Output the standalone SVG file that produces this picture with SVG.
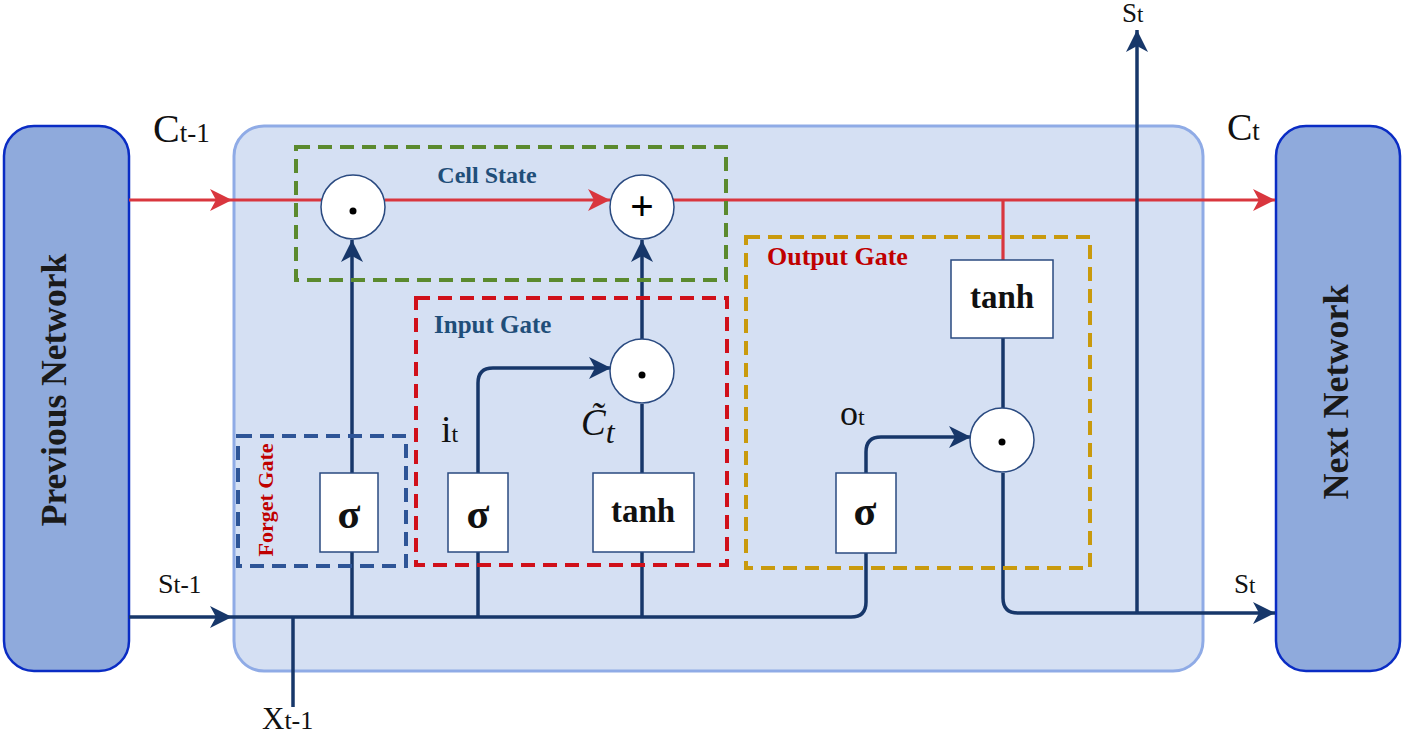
<svg xmlns="http://www.w3.org/2000/svg" width="1405" height="735" viewBox="0 0 1405 735">
<style>
.net{fill:#8faadc;stroke:#0a2cc4;stroke-width:2.5}
.cell{fill:#d5e0f3;stroke:#8fabe6;stroke-width:3}
.nv{fill:none;stroke:#17376a;stroke-width:3.5}
.rd{fill:none;stroke:#d9363e;stroke-width:3.2}
.dash{fill:none;stroke-width:4;stroke-dasharray:14 8}
.op{fill:#fff;stroke:#2a4a80;stroke-width:1.5}
.fn{fill:#fff;stroke:#2a4a80;stroke-width:1.5}
.b{font-family:"Liberation Serif","Times New Roman",serif;font-weight:bold}
.r{font-family:"Liberation Serif","Times New Roman",serif;fill:#111}
</style>
<defs>
<marker id="an" markerUnits="userSpaceOnUse" markerWidth="24" markerHeight="24" refX="22" refY="11" orient="auto">
<path d="M0,0 L22,11 L0,22 L6,11 z" fill="#17376a"/>
</marker>
<marker id="ar" markerUnits="userSpaceOnUse" markerWidth="24" markerHeight="24" refX="22" refY="11" orient="auto">
<path d="M0,0 L22,11 L0,22 L6,11 z" fill="#d9363e"/>
</marker>
</defs>
<rect width="1405" height="735" fill="#fff"/>
<g id="previous-network">
<rect class="net" x="4" y="126" width="125" height="545" rx="30"/>
<text class="b" font-size="35.5" fill="#1a1a1a" text-anchor="middle" transform="translate(66,390) rotate(-90)">Previous Network</text>
</g>
<g id="next-network">
<rect class="net" x="1276" y="126" width="124" height="545" rx="30"/>
<text class="b" font-size="36" fill="#1a1a1a" text-anchor="middle" transform="translate(1348,392) rotate(-90)">Next Network</text>
</g>
<g id="lstm-cell">
<rect class="cell" x="234" y="126" width="969" height="545" rx="30"/>
</g>
<g id="connectors">
<path class="rd" d="M129,200 H232" marker-end="url(#ar)"/>
<path class="rd" d="M232,200 H322"/>
<path class="rd" d="M385,200 H610" marker-end="url(#ar)"/>
<path class="rd" d="M673,200 H1275" marker-end="url(#ar)"/>
<path class="rd" d="M1003,200 V260"/>
<path class="nv" d="M129,617 H232" marker-end="url(#an)"/>
<path class="nv" d="M232,617 H851 Q866,617 866,602 V553"/>
<path class="nv" d="M293,617 V707"/>
<path class="nv" d="M352,617 V552"/>
<path class="nv" d="M478,617 V552"/>
<path class="nv" d="M642,617 V552"/>
<path class="nv" d="M352,473 V240" marker-end="url(#an)"/>
<path class="nv" d="M478,473 V383 Q478,368 493,368 H611" marker-end="url(#an)"/>
<path class="nv" d="M642,473 V404"/>
<path class="nv" d="M642,339 V240" marker-end="url(#an)"/>
<path class="nv" d="M866,473 V452 Q866,437 881,437 H971" marker-end="url(#an)"/>
<path class="nv" d="M1003,338 V408"/>
<path class="nv" d="M1003,473 V598 Q1003,613 1018,613 H1275" marker-end="url(#an)"/>
<path class="nv" d="M1137,613 V30" marker-end="url(#an)"/>
</g>
<g id="cell-state">
<rect class="dash" x="296" y="147" width="430" height="133" stroke="#5b8a2e"/>
<text class="b" x="487" y="183" font-size="24" fill="#1f4e79" text-anchor="middle">Cell State</text>
</g>
<g id="forget-gate">
<rect class="dash" x="238" y="436" width="168" height="130" stroke="#2e5597"/>
<text class="b" font-size="22" fill="#c00000" text-anchor="middle" transform="translate(273,500) rotate(-90)">Forget Gate</text>
</g>
<g id="input-gate">
<rect class="dash" x="416" y="298" width="311" height="267" stroke="#d0101a"/>
<text class="b" x="434" y="333" font-size="25" fill="#1f4e79">Input Gate</text>
</g>
<g id="output-gate">
<rect class="dash" x="746" y="237" width="344" height="331" stroke="#c99a0d"/>
<text class="b" x="767" y="265" font-size="26" fill="#c00000">Output Gate</text>
</g>
<g id="forget-mult">
<circle class="op" cx="353" cy="207" r="32"/>
<circle cx="353" cy="211" r="3.5" fill="#000"/>
</g>
<g id="cell-add">
<circle class="op" cx="642" cy="207" r="32"/>
<text class="b" x="642" y="220" font-size="42" text-anchor="middle" fill="#000">+</text>
</g>
<g id="input-mult">
<circle class="op" cx="642" cy="371" r="32"/>
<circle cx="642" cy="375" r="3.5" fill="#000"/>
</g>
<g id="output-mult">
<circle class="op" cx="1002" cy="440" r="32"/>
<circle cx="1002" cy="442" r="3.5" fill="#000"/>
</g>
<g id="forget-sigma">
<rect class="fn" x="320" y="473" width="58" height="79"/>
<text class="b" x="349" y="528" font-size="42" text-anchor="middle" fill="#111">σ</text>
</g>
<g id="input-sigma">
<rect class="fn" x="448" y="473" width="60" height="79"/>
<text class="b" x="478" y="528" font-size="42" text-anchor="middle" fill="#111">σ</text>
</g>
<g id="input-tanh">
<rect class="fn" x="593" y="473" width="101" height="79"/>
<text class="b" x="643" y="522" font-size="33" text-anchor="middle" fill="#111">tanh</text>
</g>
<g id="output-sigma">
<rect class="fn" x="836" y="473" width="60" height="80"/>
<text class="b" x="865" y="525" font-size="42" text-anchor="middle" fill="#111">σ</text>
</g>
<g id="output-tanh">
<rect class="fn" x="951" y="260" width="102" height="78"/>
<text class="b" x="1002" y="308" font-size="33" text-anchor="middle" fill="#111">tanh</text>
</g>
<g id="labels">
<text class="r" x="153" y="142" font-size="40">C<tspan font-size="27">t-1</tspan></text>
<text class="r" x="1227" y="140" font-size="38">C<tspan font-size="27">t</tspan></text>
<text class="r" x="1122" y="22" font-size="27">S<tspan font-size="23">t</tspan></text>
<text class="r" x="1234" y="593" font-size="27">S<tspan font-size="23">t</tspan></text>
<text class="r" x="158" y="593" font-size="28">S<tspan font-size="25">t-1</tspan></text>
<text class="r" x="262" y="729" font-size="31">X<tspan font-size="26">t-1</tspan></text>
<text class="r" x="441" y="442" font-size="38">i<tspan font-size="24">t</tspan></text>
<text class="r" x="840" y="425" font-size="36">o<tspan font-size="24">t</tspan></text>
<text class="r" x="581" y="435" font-size="37" font-style="italic">C̃<tspan font-size="32" dy="8">t</tspan></text>
</g>
</svg>
